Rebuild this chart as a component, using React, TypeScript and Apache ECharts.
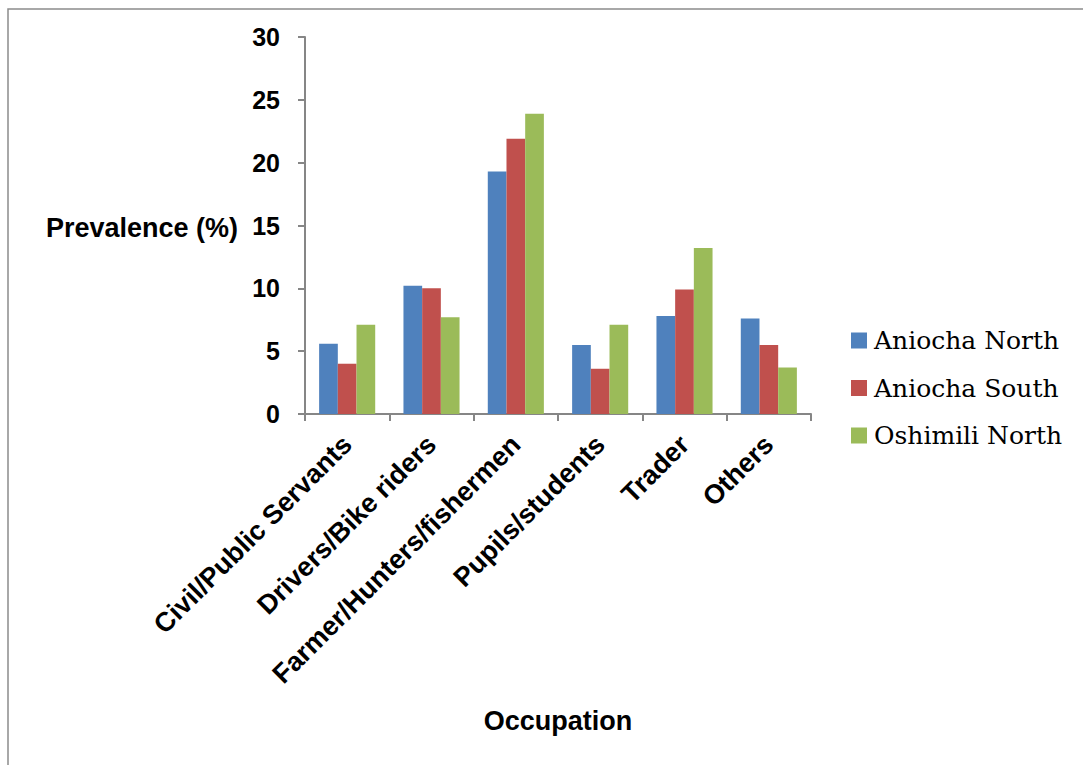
import React, { useEffect, useRef } from "react";
import * as echarts from "echarts";

const categories = [
  "Civil/Public Servants",
  "Drivers/Bike riders",
  "Farmer/Hunters/fishermen",
  "Pupils/students",
  "Trader",
  "Others",
];
const aniochaNorth = [5.6, 10.2, 19.3, 5.5, 7.8, 7.6];
const aniochaSouth = [4.0, 10.0, 21.9, 3.6, 9.9, 5.5];
const oshimiliNorth = [7.1, 7.7, 23.9, 7.1, 13.2, 3.7];
const seriesNames = ["Aniocha North", "Aniocha South", "Oshimili North"];
const colors = ["#4F81BD", "#C0504D", "#9BBB59"];

const SANS = "Arial, 'Liberation Sans', sans-serif";

export default function App() {
  const ref = useRef<HTMLDivElement>(null);
  useEffect(() => {
    document.body.style.margin = "0";
    const chart = echarts.init(ref.current!, undefined, { renderer: "svg" });
    const data = [aniochaNorth, aniochaSouth, oshimiliNorth];
    chart.setOption({
      animation: false,
      color: colors,
      grid: { left: 305, top: 37, width: 506, height: 377, containLabel: false },
      legend: {
        orient: "vertical",
        left: 851,
        top: 328,
        padding: 0,
        itemWidth: 16,
        itemHeight: 16,
        itemGap: 22.5,
        icon: "rect",
        data: seriesNames,
        textStyle: {
          fontFamily: "'DejaVu Serif', serif",
          fontSize: 25,
          color: "#000",
          padding: [0, 0, 0, 2],
        },
      },
      xAxis: {
        type: "category",
        data: categories,
        axisLine: { lineStyle: { color: "#868686", width: 2 } },
        axisTick: { show: true, length: 7, lineStyle: { color: "#868686", width: 2 } },
        axisLabel: {
          rotate: 45,
          interval: 0,
          margin: 26,
          color: "#000",
          fontFamily: SANS,
          fontWeight: "bold",
          fontSize: 27,
        },
      },
      yAxis: {
        type: "value",
        min: 0,
        max: 30,
        interval: 5,
        splitLine: { show: false },
        axisLine: { show: true, lineStyle: { color: "#868686", width: 2 } },
        axisTick: { show: true, length: 7, lineStyle: { color: "#868686", width: 2 } },
        axisLabel: {
          margin: 25,
          color: "#000",
          fontFamily: SANS,
          fontWeight: "bold",
          fontSize: 25,
        },
      },
      series: data.map((d, i) => ({
        name: seriesNames[i],
        type: "bar",
        data: d,
        barGap: "0%",
        barCategoryGap: "33.5%",
        itemStyle: { color: colors[i] },
      })),
      graphic: [
        {
          type: "polyline",
          shape: { points: [[8, 800], [8, 9], [1100, 9]] },
          style: { stroke: "#8c8c8c", lineWidth: 1.5, fill: null },
          silent: true,
        },
        {
          type: "text",
          x: 238,
          y: 228,
          style: {
            text: "Prevalence (%)",
            align: "right",
            verticalAlign: "middle",
            fontFamily: SANS,
            fontWeight: "bold",
            fontSize: 27,
            fill: "#000",
          },
        },
        {
          type: "text",
          x: 558,
          y: 721,
          style: {
            text: "Occupation",
            align: "center",
            verticalAlign: "middle",
            fontFamily: SANS,
            fontWeight: "bold",
            fontSize: 27,
            fill: "#000",
          },
        },
      ],
    });
    return () => chart.dispose();
  }, []);
  return <div ref={ref} style={{ width: 1083, height: 765, background: "#fff" }} />;
}
